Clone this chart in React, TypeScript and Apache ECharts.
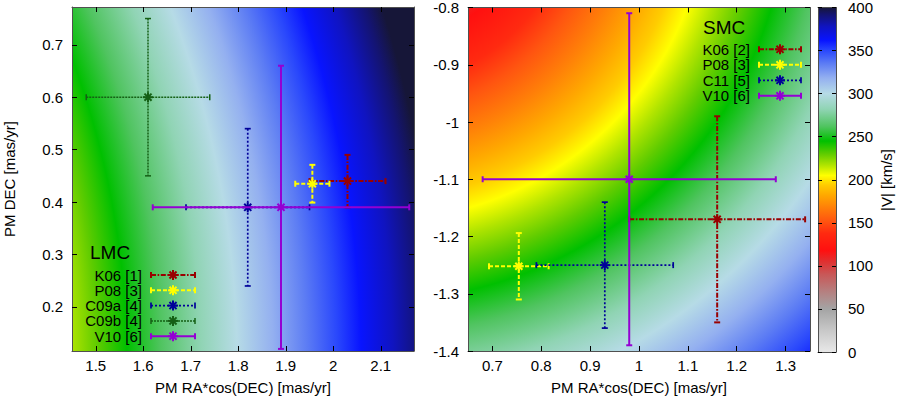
import React, { useEffect, useRef } from "react";
import * as echarts from "echarts";

const FONT = "'Liberation Sans', Arial, Helvetica, sans-serif";

// ---------------- data ----------------
// LMC proper-motion measurements
const LMC_NAMES = ["K06 [1]", "P08 [3]", "C09a [4]", "C09b [4]", "V10 [6]"];
const LMC_KEYS = ["K06", "P08", "C09a", "C09b", "V10"];
const LMC_X = [2.03, 1.956, 1.82, 1.61, 1.89];
const LMC_Y = [0.44, 0.435, 0.39, 0.6, 0.39];
const LMC_XERR = [0.08, 0.036, 0.13, 0.13, 0.27];
const LMC_YERR = [0.05, 0.036, 0.15, 0.15, 0.27];

// SMC proper-motion measurements
const SMC_NAMES = ["K06 [2]", "P08 [3]", "C11 [5]", "V10 [6]"];
const SMC_KEYS = ["K06", "P08", "C11", "V10"];
const SMC_X = [1.16, 0.754, 0.93, 0.98];
const SMC_Y = [-1.17, -1.252, -1.25, -1.1];
const SMC_XERR = [0.18, 0.061, 0.14, 0.3];
const SMC_YERR = [0.18, 0.058, 0.11, 0.29];

// axis ranges and ticks
const LMC_XRANGE = [1.45, 2.17];
const LMC_YRANGE = [0.116, 0.772];
const SMC_XRANGE = [0.65, 1.35];
const SMC_YRANGE = [-1.4, -0.8];
const LMC_X_TICKS = [1.5, 1.6, 1.7, 1.8, 1.9, 2, 2.1];
const LMC_Y_TICKS = [0.2, 0.3, 0.4, 0.5, 0.6, 0.7];
const SMC_X_TICKS = [0.7, 0.8, 0.9, 1, 1.1, 1.2, 1.3];
const SMC_Y_TICKS = [-1.4, -1.3, -1.2, -1.1, -1, -0.9, -0.8];
const CB_RANGE = [0, 400];
const CB_TICKS = [0, 50, 100, 150, 200, 250, 300, 350, 400];

// colour palette of |V| (km/s)
const CMAP_V = [0, 25, 50, 70, 90, 105, 118, 138, 152, 168, 182, 194, 205, 217, 230, 245, 262, 282, 300, 318, 335, 350, 362, 378, 392, 400];
const CMAP_C = [
  "#e8e8e8", "#c8c8c8", "#a4a4a4", "#b58080", "#c85858", "#e03030", "#ff1010", "#ff2a10",
  "#ff5510", "#ff8008", "#ffa800", "#ffcc00", "#ffff00", "#b0e400", "#60cc00", "#00c000",
  "#50c460", "#90d4b4", "#b6dbe6", "#94b0f0", "#5c7cf4", "#2a48fc", "#0814ff", "#1014c0",
  "#141470", "#161638",
];

// background |V| field: centre of the circular contours (data coords) and contour spacing
const LMC_FIELD = { center: [-0.297, 0.088], v0: 300, r0: 995, pxPerV: 2, R: 1400 };
const SMC_FIELD = { center: [0.465, -0.594], v0: 200, r0: 321, pxPerV: 2, R: 800 };

// ---------------- styles ----------------
type St = { color: string; width: number; dash: number[] | null };
const STYLES: Record<string, St> = {
  K06: { color: "#990000", width: 2, dash: [5, 1.6, 1.6, 1.6] },
  P08: { color: "#ffff00", width: 2, dash: [4, 2] },
  C09a: { color: "#000099", width: 1.7, dash: [2, 2] },
  C11: { color: "#000099", width: 1.7, dash: [2, 2] },
  C09b: { color: "#156015", width: 1.5, dash: [2, 1] },
  V10: { color: "#9400d3", width: 2, dash: null },
};

const STAR = 5;
const CAP = 3;
const GZ = 30;

function starLines(cx: number, cy: number, color: string, z?: number) {
  const s = STAR;
  const d = s * 0.7071;
  const segs = [
    [cx - s, cy, cx + s, cy],
    [cx, cy - s, cx, cy + s],
    [cx - d, cy - d, cx + d, cy + d],
    [cx - d, cy + d, cx + d, cy - d],
  ];
  return segs.map(([x1, y1, x2, y2]) => {
    const el: any = { type: "line", shape: { x1, y1, x2, y2 }, style: { stroke: color, lineWidth: 2 } };
    if (z != null) el.z = z;
    return el;
  });
}

function errRender(st: St) {
  return (_params: any, api: any) => {
    const x = api.value(0), y = api.value(1), xe = api.value(2), ye = api.value(3);
    const c = api.coord([x, y]);
    const l = api.coord([x - xe, y]);
    const r = api.coord([x + xe, y]);
    const t = api.coord([x, y + ye]);
    const b = api.coord([x, y - ye]);
    const ls: any = { stroke: st.color, lineWidth: st.width };
    if (st.dash) ls.lineDash = st.dash;
    const solid = { stroke: st.color, lineWidth: st.width };
    const children: any[] = [
      { type: "line", shape: { x1: l[0], y1: l[1], x2: r[0], y2: r[1] }, style: ls },
      { type: "line", shape: { x1: t[0], y1: t[1], x2: b[0], y2: b[1] }, style: ls },
      { type: "line", shape: { x1: l[0], y1: l[1] - CAP, x2: l[0], y2: l[1] + CAP }, style: solid },
      { type: "line", shape: { x1: r[0], y1: r[1] - CAP, x2: r[0], y2: r[1] + CAP }, style: solid },
      { type: "line", shape: { x1: t[0] - CAP, y1: t[1], x2: t[0] + CAP, y2: t[1] }, style: solid },
      { type: "line", shape: { x1: b[0] - CAP, y1: b[1], x2: b[0] + CAP, y2: b[1] }, style: solid },
      ...starLines(c[0], c[1], st.color),
    ];
    return { type: "group", children };
  };
}

function fieldRender(field: typeof LMC_FIELD) {
  return (_params: any, api: any) => {
    const p0 = api.coord([api.value(0), api.value(3)]);
    const p1 = api.coord([api.value(2), api.value(1)]);
    const c = api.coord(field.center);
    const stops = CMAP_V.map((v, i) => ({
      offset: Math.min(1, Math.max(0, (field.r0 + (v - field.v0) * field.pxPerV) / field.R)),
      color: CMAP_C[i],
    }));
    return {
      type: "rect",
      shape: { x: p0[0], y: p0[1], width: p1[0] - p0[0], height: p1[1] - p0[1] },
      style: { fill: new echarts.graphic.RadialGradient(c[0], c[1], field.R, stops, true) },
    };
  };
}

function colorbarRender() {
  return (_params: any, api: any) => {
    const p0 = api.coord([api.value(0), api.value(3)]);
    const p1 = api.coord([api.value(2), api.value(1)]);
    const span = CB_RANGE[1] - CB_RANGE[0];
    const stops = CMAP_V.map((v, i) => ({ offset: (v - CB_RANGE[0]) / span, color: CMAP_C[i] }));
    return {
      type: "rect",
      shape: { x: p0[0], y: p0[1], width: p1[0] - p0[0], height: p1[1] - p0[1] },
      style: { fill: new echarts.graphic.LinearGradient(0, 1, 0, 0, stops) },
    };
  };
}

const BORDER = "#505050";

function axis(o: {
  grid: number; pos: string; range: number[]; ticks?: number[]; labels?: boolean;
  name?: string; nameGap?: number; margin?: number; tickLen?: number;
}) {
  return {
    type: "value",
    gridIndex: o.grid,
    position: o.pos,
    min: o.range[0],
    max: o.range[1],
    z: 5,
    name: o.name || "",
    nameLocation: "middle",
    nameGap: o.nameGap || 0,
    nameTextStyle: { color: "#000", fontSize: 15, fontFamily: FONT },
    axisLine: { show: true, onZero: false, lineStyle: { color: BORDER, width: 1 } },
    axisTick: o.ticks
      ? { show: true, inside: true, length: o.tickLen || 5, customValues: o.ticks, lineStyle: { color: "#000", width: 1 } }
      : { show: false },
    axisLabel: o.labels && o.ticks
      ? { show: true, customValues: o.ticks, color: "#000", fontSize: 15, fontFamily: FONT, margin: o.margin ?? 8 }
      : { show: false },
    splitLine: { show: false },
  };
}

function legendElements(
  names: string[], keys: string[], title: string,
  titleX: number, titleY: number, textRight: number, rowY0: number, rowStep: number,
  sx1: number, sx2: number
) {
  const els: any[] = [
    {
      type: "text", x: titleX, y: titleY, z: GZ,
      style: { text: title, fill: "#000", fontSize: 19, fontFamily: FONT, align: "left", verticalAlign: "middle" },
    },
  ];
  names.forEach((nm, i) => {
    const st = STYLES[keys[i]];
    const y = rowY0 + i * rowStep;
    const mx = (sx1 + sx2) / 2;
    const ls: any = { stroke: st.color, lineWidth: st.width };
    if (st.dash) ls.lineDash = st.dash;
    const solid = { stroke: st.color, lineWidth: st.width };
    els.push(
      {
        type: "text", x: textRight, y, z: GZ,
        style: { text: nm, fill: "#000", fontSize: 15, fontFamily: FONT, align: "right", verticalAlign: "middle" },
      },
      { type: "line", z: GZ, shape: { x1: sx1, y1: y, x2: sx2, y2: y }, style: ls },
      { type: "line", z: GZ, shape: { x1: sx1, y1: y - CAP, x2: sx1, y2: y + CAP }, style: solid },
      { type: "line", z: GZ, shape: { x1: sx2, y1: y - CAP, x2: sx2, y2: y + CAP }, style: solid },
      ...starLines(mx, y, st.color, GZ)
    );
  });
  return els;
}

function buildOption() {
  const lmcSeries = LMC_NAMES.map((nm, i) => ({
    type: "custom",
    name: nm,
    xAxisIndex: 0,
    yAxisIndex: 0,
    z: 10,
    silent: true,
    clip: false,
    data: [[LMC_X[i], LMC_Y[i], LMC_XERR[i], LMC_YERR[i]]],
    renderItem: errRender(STYLES[LMC_KEYS[i]]),
  }));
  const smcSeries = SMC_NAMES.map((nm, i) => ({
    type: "custom",
    name: nm,
    xAxisIndex: 2,
    yAxisIndex: 2,
    z: 10,
    silent: true,
    clip: false,
    data: [[SMC_X[i], SMC_Y[i], SMC_XERR[i], SMC_YERR[i]]],
    renderItem: errRender(STYLES[SMC_KEYS[i]]),
  }));

  return {
    animation: false,
    backgroundColor: "#ffffff",
    grid: [
      { left: 72, top: 7, width: 342, height: 345 },
      { left: 468, top: 7, width: 342, height: 345 },
      { left: 818, top: 7, width: 18, height: 345 },
    ],
    xAxis: [
      axis({ grid: 0, pos: "bottom", range: LMC_XRANGE, ticks: LMC_X_TICKS, labels: true, name: "PM RA*cos(DEC) [mas/yr]", nameGap: 29, margin: 7 }),
      axis({ grid: 0, pos: "top", range: LMC_XRANGE, ticks: LMC_X_TICKS }),
      axis({ grid: 1, pos: "bottom", range: SMC_XRANGE, ticks: SMC_X_TICKS, labels: true, name: "PM RA*cos(DEC) [mas/yr]", nameGap: 29, margin: 7 }),
      axis({ grid: 1, pos: "top", range: SMC_XRANGE, ticks: SMC_X_TICKS }),
      axis({ grid: 2, pos: "bottom", range: [0, 1] }),
      axis({ grid: 2, pos: "top", range: [0, 1] }),
    ],
    yAxis: [
      axis({ grid: 0, pos: "left", range: LMC_YRANGE, ticks: LMC_Y_TICKS, labels: true, name: "PM DEC [mas/yr]", nameGap: 55, margin: 9 }),
      axis({ grid: 0, pos: "right", range: LMC_YRANGE, ticks: LMC_Y_TICKS }),
      axis({ grid: 1, pos: "left", range: SMC_YRANGE, ticks: SMC_Y_TICKS, labels: true, margin: 9 }),
      axis({ grid: 1, pos: "right", range: SMC_YRANGE, ticks: SMC_Y_TICKS }),
      axis({ grid: 2, pos: "right", range: CB_RANGE, ticks: CB_TICKS, labels: true, margin: 12, tickLen: 4 }),
      axis({ grid: 2, pos: "left", range: CB_RANGE, ticks: CB_TICKS, tickLen: 4 }),
    ],
    series: [
      {
        type: "custom", xAxisIndex: 0, yAxisIndex: 0, z: 1, silent: true,
        data: [[LMC_XRANGE[0], LMC_YRANGE[0], LMC_XRANGE[1], LMC_YRANGE[1]]],
        renderItem: fieldRender(LMC_FIELD),
      },
      {
        type: "custom", xAxisIndex: 2, yAxisIndex: 2, z: 1, silent: true,
        data: [[SMC_XRANGE[0], SMC_YRANGE[0], SMC_XRANGE[1], SMC_YRANGE[1]]],
        renderItem: fieldRender(SMC_FIELD),
      },
      {
        type: "custom", xAxisIndex: 4, yAxisIndex: 4, z: 1, silent: true,
        data: [[0, CB_RANGE[0], 1, CB_RANGE[1]]],
        renderItem: colorbarRender(),
      },
      ...lmcSeries,
      ...smcSeries,
    ],
    graphic: {
      elements: [
        ...legendElements(LMC_NAMES, LMC_KEYS, "LMC", 90, 252.5, 142, 275, 15.3, 151, 195),
        ...legendElements(SMC_NAMES, SMC_KEYS, "SMC", 703, 27.5, 750, 49.3, 15.5, 759, 801),
        {
          type: "text", x: 886, y: 180, z: GZ, rotation: Math.PI / 2,
          style: { text: "|V| [km/s]", fill: "#000", fontSize: 15, fontFamily: FONT, align: "center", verticalAlign: "middle" },
        },
      ],
    },
  };
}

export default function App() {
  const ref = useRef<HTMLDivElement>(null);
  useEffect(() => {
    if (!ref.current) return;
    const chart = echarts.init(ref.current, null, { renderer: "svg" });
    chart.setOption(buildOption() as any);
    return () => chart.dispose();
  }, []);
  return (
    <div
      ref={ref}
      style={{ position: "fixed", left: 0, top: 0, width: 900, height: 400, background: "#fff" }}
    />
  );
}
